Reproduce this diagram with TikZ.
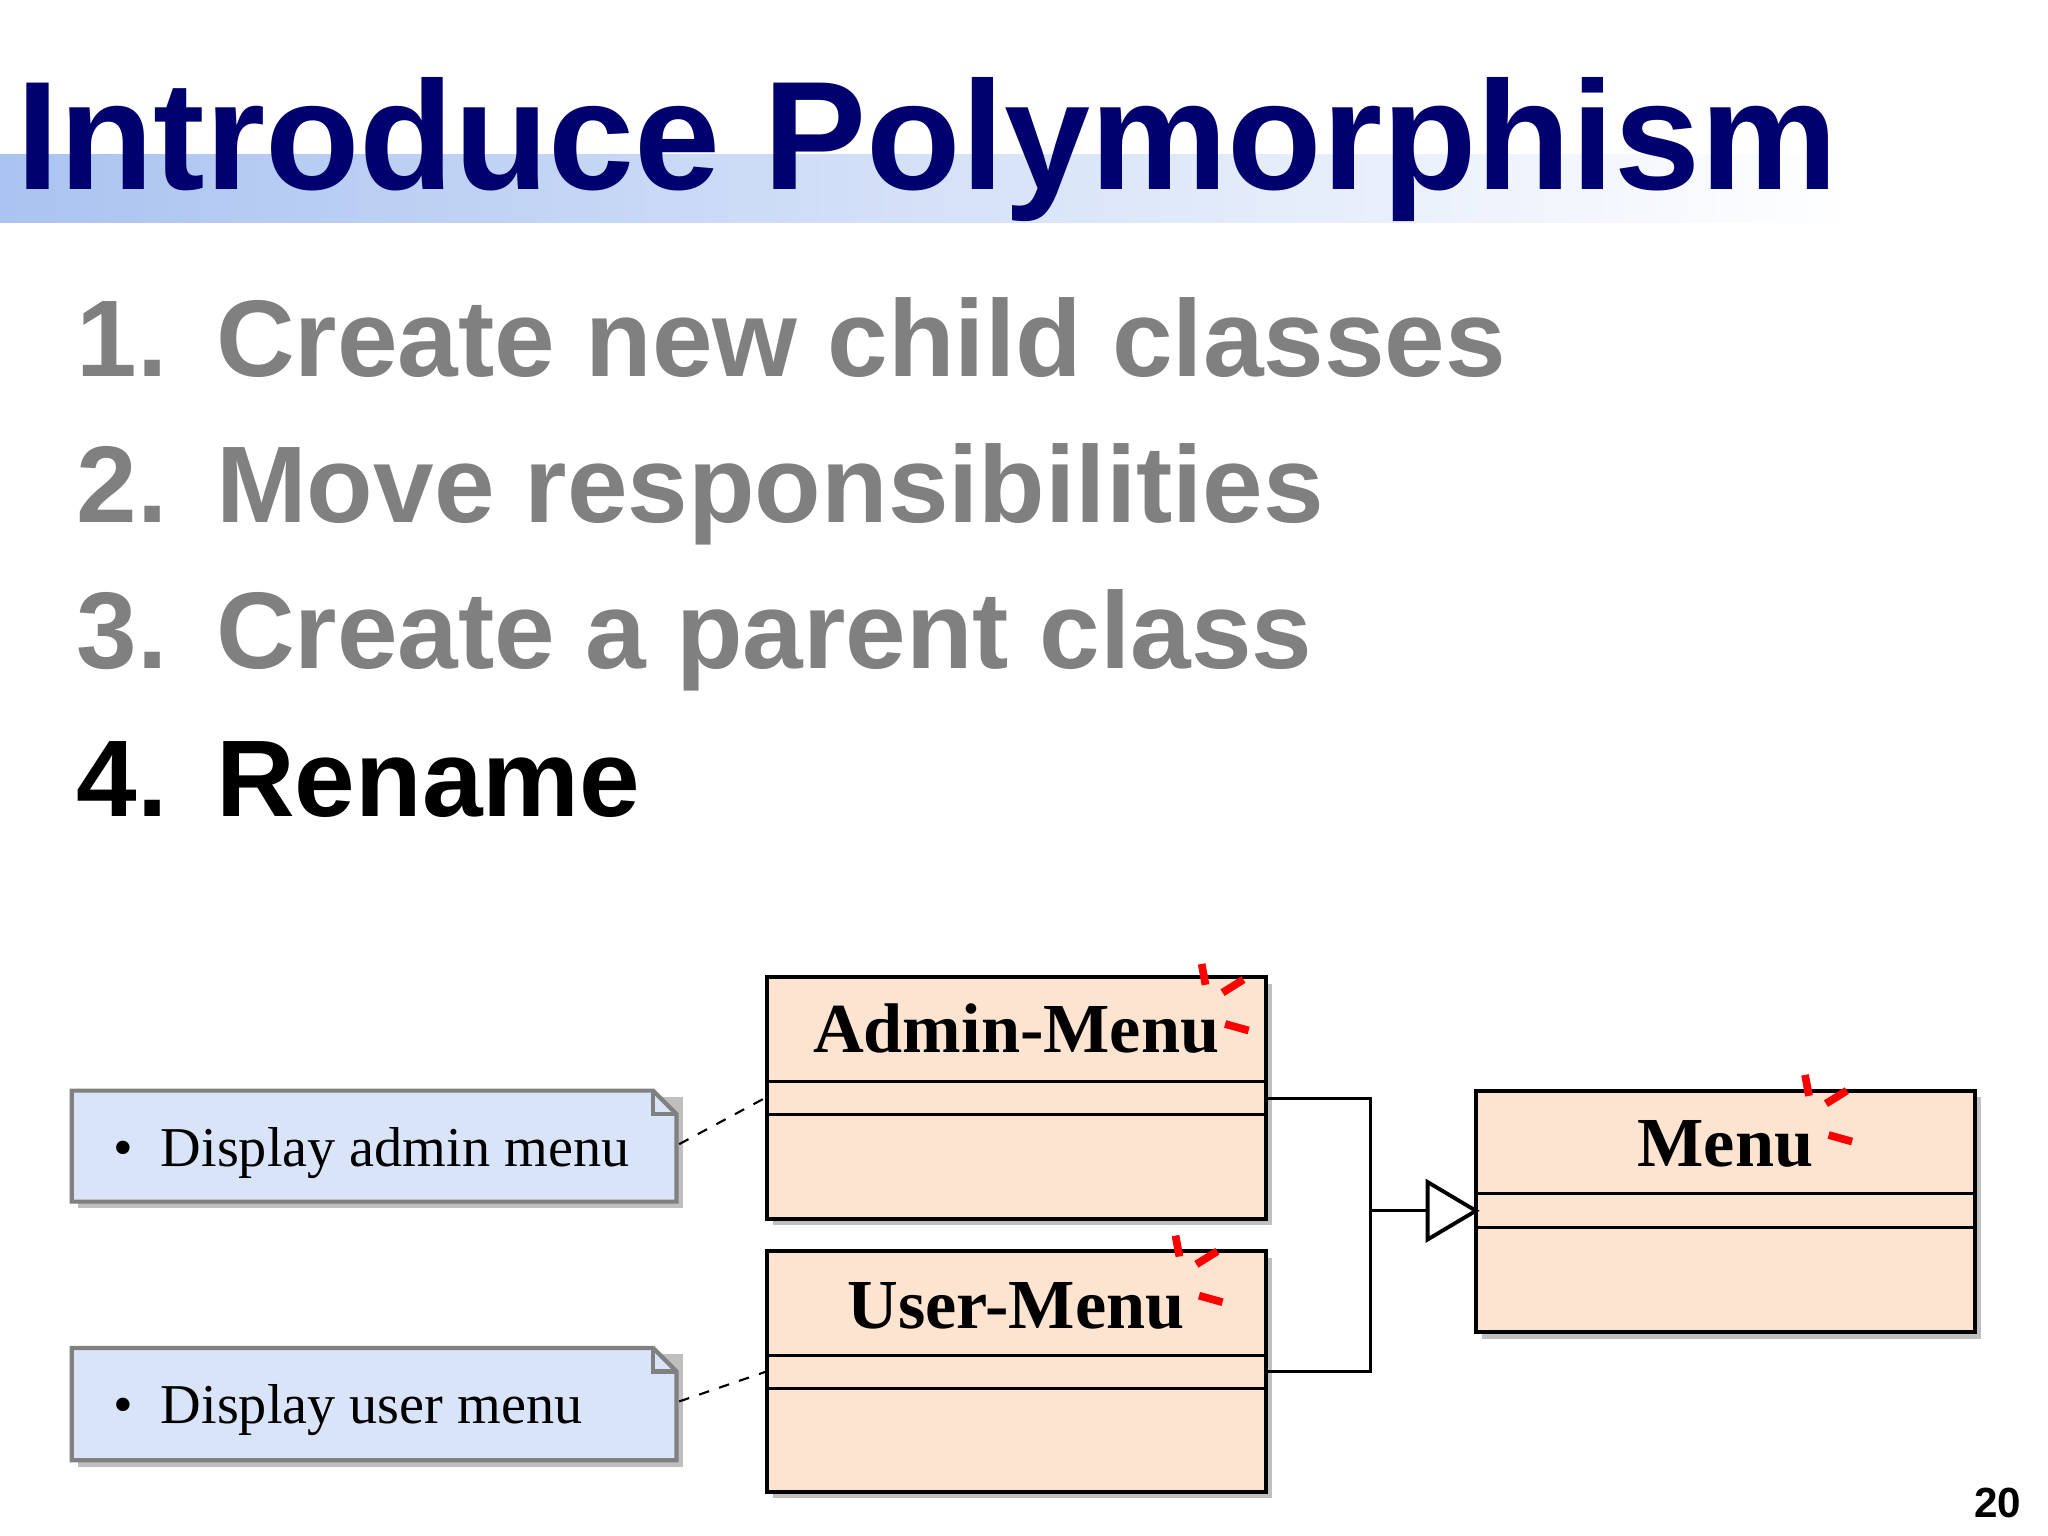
\documentclass[tikz,border=0pt]{standalone}
\usepackage{fontspec}
\setmainfont{Liberation Serif}
\newfontfamily\sans{Liberation Sans}
\usetikzlibrary{shapes.geometric}
\definecolor{navy}{RGB}{0,0,110}
\definecolor{peach}{RGB}{252,228,208}
\definecolor{notebl}{RGB}{218,228,248}
\definecolor{bar}{RGB}{170,195,240}
\tikzset{
 cls/.style={draw=black,line width=1.1pt,fill=peach},
 item/.style={anchor=base west,font=\sans\bfseries\fontsize{31}{31}\selectfont,text=gray,inner sep=0},
 ctitle/.style={font=\bfseries\fontsize{20}{20}\selectfont,anchor=base,inner sep=0},
 note/.style={draw=gray,line width=1.2pt,fill=notebl},
 conn/.style={line width=0.8pt},
 redmark/.style={red,line width=2.2pt},
}
\begin{document}
\begin{tikzpicture}[x=0.01306cm,y=-0.01306cm]
\useasboundingbox[fill=white] (0,0) rectangle (1568,1176);
\shade[left color=bar,right color=white] (0,118) rectangle (1420,170);
\node[anchor=base west,inner sep=0,text=navy,font=\sans\bfseries\fontsize{44}{44}\selectfont] (title) at (12,145) {Introduce Polymorphism};
\node[item] (n1) at (58,288) {1.};\node[item] (t1) at (165,288) {Create new child classes};
\node[item] (n2) at (58,400) {2.};\node[item] (t2) at (165,400) {Move responsibilities};
\node[item] (n3) at (58,512) {3.};\node[item] (t3) at (165,512) {Create a parent class};
\node[item,text=black] (n4) at (58,625) {4.};\node[item,text=black] (t4) at (165,625) {Rename};
% shadows
\foreach \a/\b/\c/\d in {587/748/969/933,587/958/969/1142,1130/835/1512/1020}
  \fill[black!25] (\a+5,\b+5) rectangle (\c+5,\d+5);
\foreach \b/\d in {835/920,1032/1118}
  \fill[black!25] (60,\b+5) rectangle (523,\d+5);
% classes
\draw[cls] (587,748) rectangle (969,933); \draw[conn] (587,828)--(969,828) (587,853)--(969,853);
\draw[cls] (587,958) rectangle (969,1142); \draw[conn] (587,1038)--(969,1038) (587,1063)--(969,1063);
\draw[cls] (1130,835) rectangle (1512,1020); \draw[conn] (1130,914)--(1512,914) (1130,940)--(1512,940);
\node[ctitle] (adm) at (778,806) {Admin-Menu};
\node[ctitle] (usr) at (778,1017) {User-Menu};
\node[ctitle] (men) at (1321,893) {Menu};
% red marks
\foreach \x/\y in {920/738,1382/823,900/946}{
 \draw[redmark] (\x,\y)--(\x+3,\y+16);
 \draw[redmark] (\x+16,\y+22)--(\x+32,\y+12);
 \draw[redmark] (\x+18,\y+46)--(\x+36,\y+51);}
% generalization
\coordinate (a1) at (969,841); \coordinate (u1) at (969,1050);
\coordinate (j) at (1049,927); \coordinate (tip) at (1130,927);
\draw[conn] (a1)--(1049,841)--(1049,1050)--(u1);
\draw[conn] (j)--(1093,927);
\draw[line width=1.1pt,fill=white] (1093,905)--(tip)--(1093,949)--cycle;
% notes
\foreach \b/\d/\nm/\txt in {835/920/na/admin menu,1032/1118/nu/user menu}{
 \draw[note] (55,\b)--(500,\b)--(518,\b+18)--(518,\d)--(55,\d)--cycle;
 \draw[gray,line width=1.2pt] (500,\b)--(500,\b+18)--(518,\b+18);
 \node[anchor=base west,inner sep=0,font=\fontsize{16}{16}\selectfont] (\nm) at (86,\b+58) {\textbullet\ \ Display \txt};}
\draw[dashed,conn,line width=0.6pt] (520,876)--(587,840);
\draw[dashed,conn,line width=0.6pt] (520,1073)--(587,1050);
\node[anchor=base east,inner sep=0,font=\sans\bfseries\fontsize{12}{12}\selectfont] (pg) at (1548,1162) {20};
\end{tikzpicture}
\end{document}
